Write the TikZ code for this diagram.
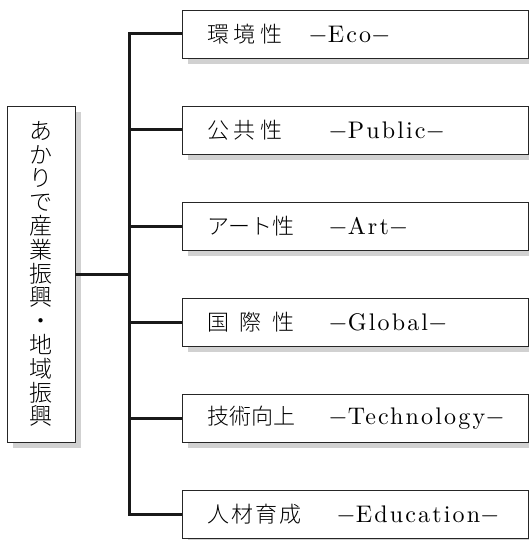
\documentclass[tikz,border=0pt]{standalone}
\usepackage{fontspec}
\newfontfamily\jp{Noto Sans CJK JP Light}
\newfontfamily\lat{lmroman10-regular.otf}[LetterSpace=9]
\usetikzlibrary{shadows}
\newcommand\lbl[3]{\makebox[#1][l]{\jp\fontsize{22}{26}\selectfont #2}$-${\lat #3}$-$}
\tikzset{
  box/.style={draw=black!85, line width=0.9pt, fill=white,
    general shadow={fill=black!18, shadow xshift=6pt, shadow yshift=-6pt}},
  item/.style={box, anchor=west, text width=296pt, inner xsep=25pt, inner ysep=0pt,
    minimum height=48pt, align=left, font=\fontsize{24}{28}\selectfont},
  conn/.style={draw=black!90, line width=3pt, line join=miter}
}
\begin{document}
\begin{tikzpicture}[x=1pt,y=-1pt]
\useasboundingbox (0,0) rectangle (529,540);
\node[box, minimum width=68pt, minimum height=336pt, inner sep=0pt, align=center,
  font=\jp\fontsize{23}{23.8}\selectfont] (L) at (41,274)
  {あ\\か\\り\\で\\産\\業\\振\\興\\・\\地\\域\\振\\興};
\node[item] (b1) at (182,34)  {\lbl{101pt}{環\hspace{4.5pt}境\hspace{4.5pt}性}{Eco}};
\node[item] (b2) at (182,130) {\lbl{121pt}{公\hspace{4.5pt}共\hspace{4.5pt}性}{Public}};
\node[item] (b3) at (182,226) {\lbl{121pt}{アート性}{Art}};
\node[item] (b4) at (182,322) {\lbl{121pt}{国\hspace{10.5pt}際\hspace{10.5pt}性}{Global}};
\node[item] (b5) at (182,418) {\lbl{121pt}{技術向上}{Technology}};
\node[item] (b6) at (182,514) {\lbl{129pt}{人\hspace{2pt}材\hspace{2pt}育\hspace{2pt}成}{Education}};
\coordinate (bus) at (129,274);
\draw[conn] (L.east) -- (bus);
\foreach \i in {1,...,6} { \draw[conn] (bus) |- (b\i.west); }
\end{tikzpicture}
\end{document}
